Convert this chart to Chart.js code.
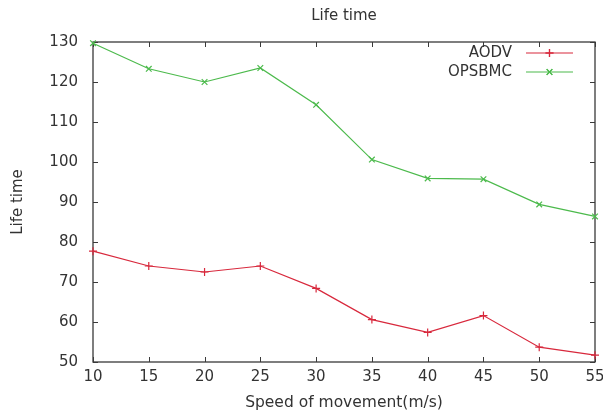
<!DOCTYPE html>
<html>
<head>
<meta charset="utf-8">
<script src="https://cdn.jsdelivr.net/npm/chart.js@4/dist/chart.umd.min.js"></script>
<style>
html,body{margin:0;padding:0;background:#fff;}
#wrap{width:603px;height:413px;}
</style>
</head>
<body>
<div id="wrap"><canvas id="c" width="603" height="413"></canvas></div>
<script>
// ---- data ----
const speeds = [10, 15, 20, 25, 30, 35, 40, 45, 50, 55];
const aodv = [77.7, 74.0, 72.5, 74.0, 68.4, 60.6, 57.4, 61.6, 53.7, 51.7];
const opsbmc = [129.7, 123.3, 120.0, 123.5, 114.3, 100.6, 95.9, 95.7, 89.4, 86.4];
const seriesNames = ['AODV', 'OPSBMC'];
const chartTitle = 'Life time';
const xTitle = 'Speed of movement(m/s)';
const yTitle = 'Life time';

const RED = '#d8283c';
const GREEN = '#4cba4c';
const AXIS = '#3a3a3a';
const TEXT = '#333333';

Chart.defaults.font.family = '"DejaVu Sans", sans-serif';
Chart.defaults.font.size = 15;
Chart.defaults.color = TEXT;

function toPoints(xs, ys){ return xs.map((x,i)=>({x:x, y:ys[i]})); }

const frame = {
  id: 'frame',
  beforeDatasetsDraw(chart){
    const {ctx, chartArea:a, scales:{x, y}} = chart;
    ctx.save();
    ctx.strokeStyle = AXIS;
    ctx.lineWidth = 1.3;
    ctx.strokeRect(a.left, a.top, a.right - a.left, a.bottom - a.top);
    const L = 5;
    ctx.beginPath();
    x.ticks.forEach(t => {
      const px = Math.round(x.getPixelForValue(t.value)) + 0.5;
      ctx.moveTo(px, a.bottom); ctx.lineTo(px, a.bottom - L);
      ctx.moveTo(px, a.top); ctx.lineTo(px, a.top + L);
    });
    y.ticks.forEach(t => {
      const py = Math.round(y.getPixelForValue(t.value)) + 0.5;
      ctx.moveTo(a.left, py); ctx.lineTo(a.left + L, py);
      ctx.moveTo(a.right, py); ctx.lineTo(a.right - L, py);
    });
    ctx.lineWidth = 1;
    ctx.stroke();
    ctx.restore();
  }
};

const topTitle = {
  id: 'topTitle',
  afterDraw(chart){
    const {ctx, chartArea:a} = chart;
    ctx.save();
    ctx.font = '15px "DejaVu Sans", sans-serif';
    ctx.fillStyle = TEXT;
    ctx.textAlign = 'center';
    ctx.textBaseline = 'middle';
    ctx.fillText(chartTitle, (a.left + a.right) / 2, a.top - 26);
    ctx.restore();
  }
};

const keyLegend = {
  id: 'keyLegend',
  afterDraw(chart){
    const {ctx, chartArea:a} = chart;
    ctx.save();
    ctx.font = '15px "DejaVu Sans", sans-serif';
    ctx.textAlign = 'right';
    ctx.textBaseline = 'middle';
    chart.data.datasets.forEach((ds, i) => {
      const yy = a.top + 11 + i * 19;
      const textRight = a.right - 83;
      const x0 = a.right - 69, x1 = a.right - 22;
      ctx.fillStyle = TEXT;
      ctx.fillText(ds.label, textRight, yy);
      ctx.strokeStyle = ds.borderColor;
      ctx.lineWidth = 1.2;
      ctx.beginPath(); ctx.moveTo(x0, yy); ctx.lineTo(x1, yy); ctx.stroke();
      Chart.helpers.drawPoint(ctx, {
        pointStyle: ds.pointStyle, radius: ds.pointRadius, borderWidth: 1, rotation: 0
      }, (x0 + x1) / 2, yy);
      ctx.stroke();
    });
    ctx.restore();
  }
};

new Chart(document.getElementById('c'), {
  type: 'line',
  data: {
    datasets: [
      { label: seriesNames[0], data: toPoints(speeds, aodv), borderColor: RED, backgroundColor: RED,
        borderWidth: 1.2, pointStyle: 'cross', pointRadius: 4, pointBorderWidth: 1.2, tension: 0, clip: false },
      { label: seriesNames[1], data: toPoints(speeds, opsbmc), borderColor: GREEN, backgroundColor: GREEN,
        borderWidth: 1.2, pointStyle: 'crossRot', pointRadius: 4, pointBorderWidth: 1.2, tension: 0, clip: false }
    ]
  },
  options: {
    responsive: false,
    animation: false,
    devicePixelRatio: 1,
    layout: { padding: { left: 0, right: 0, top: 42, bottom: 0 } },
    plugins: {
      legend: { display: false },
      tooltip: { enabled: false },
      title: { display: false }
    },
    scales: {
      x: {
        type: 'linear', min: 10, max: 55,
        grid: { display: false, drawTicks: false }, border: { display: false },
        ticks: { stepSize: 5, padding: 6, color: TEXT, maxRotation: 0, autoSkip: false },
        title: { display: true, text: xTitle, color: TEXT, font: { size: 15.5 }, padding: { top: 0, bottom: 1 } },
        afterFit(s){ s.height = 51; s.paddingRight = 8; s.paddingLeft = 0; }
      },
      y: {
        min: 50, max: 130,
        grid: { display: false, drawTicks: false }, border: { display: false },
        ticks: { stepSize: 10, padding: 15, color: TEXT },
        title: { display: true, text: yTitle, color: TEXT, padding: { top: 9, bottom: 0 } },
        afterFit(s){ s.width = 93; s.paddingTop = 0; s.paddingBottom = 0; }
      }
    }
  },
  plugins: [frame, topTitle, keyLegend]
});
</script>
</body>
</html>
